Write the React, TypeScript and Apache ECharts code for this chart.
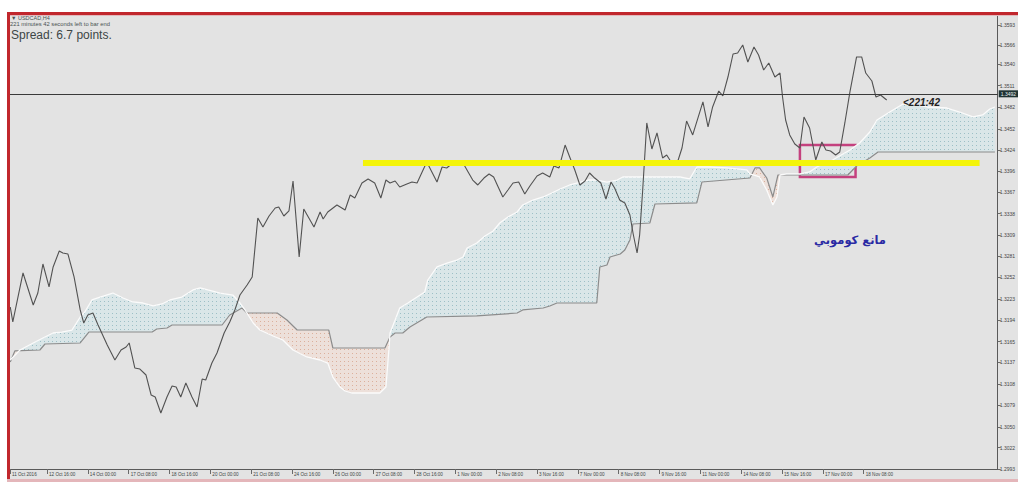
import React, { useEffect, useRef } from 'react';
import * as echarts from 'echarts';

type Pt = [number, number];

// ---- texts ----
const SYMBOL_TITLE = '▼ USDCAD,H4';
const TIMER_TEXT = '221 minutes 42 seconds left to bar end';
const SPREAD_TEXT = 'Spread: 6.7 points.';
const COUNTDOWN_TEXT = '<221:42';
const NOTE_TEXT = 'مانع كوموبي';

// ---- axes ----
const X_RANGE = [0.75, 194.25];
const Y_RANGE = [1.2993, 1.36065];
const X_TICK_BARS = [0.75, 8, 16, 24, 32, 40, 48, 56, 64, 72, 80, 88, 96, 104, 112, 120, 128, 136, 144, 152, 160, 168];
const X_TICK_LABELS = [
  '11 Oct 2016', '12 Oct 16:00', '14 Oct 00:00', '17 Oct 08:00', '18 Oct 16:00', '20 Oct 00:00',
  '21 Oct 08:00', '24 Oct 16:00', '26 Oct 00:00', '27 Oct 08:00', '28 Oct 16:00', '1 Nov 00:00',
  '2 Nov 08:00', '3 Nov 16:00', '7 Nov 00:00', '8 Nov 08:00', '9 Nov 16:00', '11 Nov 00:00',
  '14 Nov 08:00', '15 Nov 16:00', '17 Nov 00:00', '18 Nov 08:00',
];
const Y_TICKS = [
  1.2993, 1.3022, 1.3050, 1.3079, 1.3108, 1.3137, 1.3165, 1.3194, 1.3223, 1.3252, 1.3281,
  1.3309, 1.3338, 1.3367, 1.3396, 1.3424, 1.3452, 1.3482, 1.3511, 1.3540, 1.3566, 1.3593,
];

// ---- series: [bar index, price] ----
const PRICE_CLOSE: Pt[] = [
  [0.8, 1.32119], [1.3, 1.31917], [3.3, 1.32579], [5.3, 1.32146], [6.2, 1.32308], [7.2, 1.3270],
  [8.4, 1.3239], [9.2, 1.3266], [10.4, 1.32876], [11.1, 1.32849], [12.1, 1.32835], [13.3, 1.32525],
  [14.5, 1.32079], [15.2, 1.31903], [16.0, 1.32011], [17.0, 1.32038], [18.0, 1.31876], [19.8, 1.31606],
  [21.3, 1.31403], [22.5, 1.31538], [23.5, 1.31579], [24.1, 1.31633], [25.2, 1.31295], [26.2, 1.31281],
  [27.4, 1.3120], [28.4, 1.3093], [29.2, 1.30903], [30.3, 1.30687], [31.5, 1.30903], [32.5, 1.31052],
  [33.3, 1.31038], [34.2, 1.30903], [35.2, 1.31092], [36.4, 1.30903], [37.4, 1.30768], [38.4, 1.31146],
  [39.1, 1.31133], [40.3, 1.31362], [41.3, 1.31498], [42.7, 1.31768], [43.8, 1.31917], [44.8, 1.32079],
  [45.8, 1.32281], [47.2, 1.32417], [48.2, 1.32525], [49.3, 1.33322], [50.3, 1.3320], [51.5, 1.33349],
  [52.7, 1.33457], [53.4, 1.33471], [54.4, 1.33349], [55.4, 1.33417], [56.2, 1.33822], [57.4, 1.32795],
  [58.3, 1.33444], [59.3, 1.33322], [60.3, 1.3320], [61.5, 1.33403], [62.1, 1.33308], [63.0, 1.33403],
  [64.8, 1.33498], [66.4, 1.3343], [67.4, 1.33633], [68.3, 1.33592], [69.7, 1.33795], [70.9, 1.33849],
  [72.2, 1.33795], [73.4, 1.33592], [74.4, 1.33835], [75.2, 1.33795], [76.2, 1.33822], [77.1, 1.33741],
  [78.5, 1.33781], [79.5, 1.33808], [80.5, 1.33795], [81.4, 1.3393], [82.4, 1.34079], [83.4, 1.33944],
  [84.4, 1.33808], [85.4, 1.34011], [86.3, 1.33998], [87.5, 1.34065], [88.3, 1.34052], [89.5, 1.34065],
  [90.5, 1.33944], [91.4, 1.33835], [92.4, 1.33768], [93.6, 1.33862], [94.6, 1.33917], [95.5, 1.33876],
  [96.3, 1.33754], [97.3, 1.33606], [98.3, 1.3370], [99.3, 1.33795], [100.4, 1.33808], [101.6, 1.33646],
  [102.6, 1.33754], [104.0, 1.3389], [105.1, 1.3393], [106.5, 1.33876], [107.3, 1.34025], [108.3, 1.33998],
  [109.5, 1.34308], [110.4, 1.34146], [111.4, 1.33971], [112.4, 1.33768], [113.4, 1.33822], [114.3, 1.3393],
  [115.3, 1.33862], [116.5, 1.33795], [117.5, 1.33579], [118.5, 1.33808], [119.2, 1.33727], [120.2, 1.33565],
  [121.2, 1.33525], [122.2, 1.33362], [122.8, 1.33119], [123.6, 1.32849], [124.1, 1.33092], [124.7, 1.3370],
  [125.5, 1.34606], [126.5, 1.34254], [127.5, 1.34471], [128.6, 1.34133], [129.4, 1.34173], [130.4, 1.34065],
  [131.4, 1.34052], [132.4, 1.34268], [133.3, 1.34633], [134.5, 1.34444], [136.5, 1.3489], [137.5, 1.34552],
  [138.4, 1.34822], [139.6, 1.35038], [140.4, 1.34971], [141.4, 1.35227], [142.4, 1.35538], [143.3, 1.35552],
  [144.3, 1.3566], [145.3, 1.3543], [146.5, 1.35633], [147.4, 1.35525], [148.4, 1.35322], [149.4, 1.35417],
  [150.6, 1.35227], [151.6, 1.35281], [152.1, 1.34957], [152.7, 1.34646], [153.5, 1.34444], [154.5, 1.34322],
  [155.5, 1.34268], [156.3, 1.34687], [157.4, 1.34538], [158.6, 1.34106], [159.8, 1.34349], [160.6, 1.34241],
  [161.5, 1.34227], [162.5, 1.34173], [163.3, 1.34214], [164.3, 1.34606], [165.3, 1.35025], [166.6, 1.35498],
  [167.6, 1.35498], [168.4, 1.35281], [169.6, 1.35173], [170.4, 1.34957], [171.3, 1.34984], [172.5, 1.34917],
];

const SENKOU_A: Pt[] = [
  [0.8, 1.31403], [2.7, 1.31538], [5.3, 1.31633], [7.2, 1.3170], [9.2, 1.31768], [10.9, 1.31781],
  [12.9, 1.31808], [14.5, 1.31984], [15.4, 1.32052], [16.8, 1.32214], [18.4, 1.32254], [20.9, 1.32308],
  [22.9, 1.32241], [24.8, 1.32187], [26.8, 1.32173], [28.8, 1.32133], [30.5, 1.3216], [32.1, 1.32214],
  [34.4, 1.32254], [36.6, 1.32349], [38.0, 1.32376], [39.5, 1.32349], [41.9, 1.32308], [44.4, 1.32281],
  [45.8, 1.32173], [46.8, 1.32079], [48.4, 1.31903], [49.7, 1.31808], [52.3, 1.31727], [54.2, 1.31673],
  [56.2, 1.31538], [58.9, 1.31444], [61.5, 1.31403], [63.0, 1.31362], [64.0, 1.31173], [65.4, 1.31038],
  [66.4, 1.30984], [67.7, 1.30957], [73.2, 1.30957], [74.4, 1.31038], [75.0, 1.31565], [75.2, 1.31768],
  [76.2, 1.31944], [77.1, 1.32106], [78.7, 1.32173], [80.5, 1.32254], [82.0, 1.32322], [82.6, 1.32484],
  [84.4, 1.3266], [86.5, 1.32714], [88.3, 1.32754], [89.5, 1.32795], [90.3, 1.32917], [92.2, 1.32984],
  [93.8, 1.33079], [95.4, 1.33146], [96.7, 1.33254], [98.3, 1.33335], [100.1, 1.33403], [101.2, 1.33498],
  [103.2, 1.33565], [105.2, 1.33606], [106.9, 1.3366], [108.5, 1.33714], [110.4, 1.33768], [112.0, 1.33795],
  [114.0, 1.33835], [115.7, 1.33835], [117.7, 1.33808], [119.7, 1.33835], [120.8, 1.33876], [125.5, 1.33876],
  [130.1, 1.33876], [132.0, 1.33876], [133.9, 1.33849], [135.3, 1.34011], [137.8, 1.34011], [141.2, 1.33998],
  [145.1, 1.33971], [145.7, 1.33917], [147.6, 1.33876], [149.0, 1.3370], [150.2, 1.33498], [151.0, 1.33606],
  [151.6, 1.33903], [152.9, 1.33917], [155.5, 1.33917], [157.4, 1.33944], [158.8, 1.34011], [161.9, 1.34106],
  [165.3, 1.34241], [167.2, 1.34335], [169.2, 1.34484], [170.6, 1.34646], [173.1, 1.34754], [175.7, 1.34862],
  [177.6, 1.34862], [180.4, 1.34822], [184.3, 1.34808], [186.8, 1.34754], [189.4, 1.34687], [191.3, 1.34714],
  [192.7, 1.34795], [193.7, 1.34822],
];

const SENKOU_B: Pt[] = [
  [0.8, 1.31376], [1.7, 1.31525], [6.6, 1.31538], [7.6, 1.31619], [14.5, 1.31633], [16.2, 1.31781],
  [28.6, 1.31781], [29.5, 1.31822], [31.5, 1.31835], [32.5, 1.31876], [42.3, 1.31876], [43.8, 1.32011],
  [46.2, 1.32106], [47.2, 1.32038], [53.1, 1.32038], [55.0, 1.31944], [57.0, 1.31808], [63.2, 1.31808],
  [64.0, 1.31565], [74.2, 1.31565], [75.2, 1.31714], [76.2, 1.31768], [77.7, 1.31768], [79.1, 1.31849],
  [82.4, 1.31984], [92.2, 1.31998], [100.1, 1.32038], [101.2, 1.32079], [105.2, 1.32106], [106.5, 1.32133],
  [107.9, 1.32173], [115.7, 1.32173], [116.3, 1.3266], [117.7, 1.32687], [118.3, 1.32795], [120.3, 1.32835],
  [121.2, 1.3289], [122.2, 1.33025], [122.8, 1.33241], [126.1, 1.33254], [127.1, 1.33511], [135.3, 1.33525],
  [136.3, 1.33808], [145.7, 1.33862], [146.7, 1.33998], [147.6, 1.33998], [149.0, 1.33862], [150.2, 1.33606],
  [151.2, 1.33903], [164.9, 1.33903], [166.6, 1.34025], [169.2, 1.34133], [170.8, 1.34214], [193.7, 1.34214],
];

// ---- annotations ----
const CURRENT_PRICE = 1.3492;
const SUPPORT_LEVEL = 1.34065;
const SUPPORT_BARS = [69.9, 190.7];
const BOX_BARS = [155.5, 166.4];
const BOX_PRICES = [1.33876, 1.34308];

function valueAt(line: Pt[], x: number): number {
  if (x <= line[0][0]) return line[0][1];
  for (let i = 1; i < line.length; i++) {
    if (x <= line[i][0]) {
      const [x0, y0] = line[i - 1];
      const [x1, y1] = line[i];
      return x1 === x0 ? y1 : y0 + ((y1 - y0) * (x - x0)) / (x1 - x0);
    }
  }
  return line[line.length - 1][1];
}

type CP = { x: number; a: number; b: number };

function cloudSegments(A: Pt[], B: Pt[]) {
  const lo = Math.max(A[0][0], B[0][0]);
  const hi = Math.min(A[A.length - 1][0], B[B.length - 1][0]);
  const xs = Array.from(new Set([...A, ...B].map((p) => p[0]).filter((x) => x >= lo && x <= hi))).sort((p, q) => p - q);
  const pts: CP[] = xs.map((x) => ({ x, a: valueAt(A, x), b: valueAt(B, x) }));
  const full: CP[] = [];
  for (let i = 0; i < pts.length; i++) {
    if (i > 0) {
      const p = pts[i - 1];
      const q = pts[i];
      const dp = p.a - p.b;
      const dq = q.a - q.b;
      if (dp * dq < 0) {
        const t = dp / (dp - dq);
        const v = p.a + (q.a - p.a) * t;
        full.push({ x: p.x + (q.x - p.x) * t, a: v, b: v });
      }
    }
    full.push(pts[i]);
  }
  const segs: CP[][] = [];
  let cur: CP[] = [];
  for (const p of full) {
    cur.push(p);
    if (p.a === p.b && cur.length > 1) {
      segs.push(cur);
      cur = [p];
    }
  }
  if (cur.length > 1) segs.push(cur);
  return segs.map((s) => ({ up: s.reduce((acc, p) => acc + p.a - p.b, 0) >= 0, pts: s }));
}

function dotPattern(bg: string, dot: string) {
  const svg = `<svg xmlns="http://www.w3.org/2000/svg" width="4" height="4"><rect width="4" height="4" fill="${bg}"/><rect x="1" y="1" width="1" height="1" fill="${dot}"/></svg>`;
  return {
    image: 'data:image/svg+xml;charset=utf-8,' + encodeURIComponent(svg),
    repeat: 'repeat',
    imageWidth: 4,
    imageHeight: 4,
  };
}

const BLUE_FILL = dotPattern('#dae6e8', '#9dbfc6');
const PEACH_FILL = dotPattern('#ede0da', '#dcb09c');

function xLabel(v: number): string {
  let best = 0;
  for (let i = 1; i < X_TICK_BARS.length; i++) {
    if (Math.abs(X_TICK_BARS[i] - v) < Math.abs(X_TICK_BARS[best] - v)) best = i;
  }
  return X_TICK_LABELS[best];
}

function buildOption(): any {
  return {
    animation: false,
    backgroundColor: '#e3e3e3',
    grid: { left: 3, right: 20, top: 3, bottom: 13 },
    xAxis: {
      type: 'value',
      min: X_RANGE[0],
      max: X_RANGE[1],
      axisLine: { show: true, onZero: false, lineStyle: { color: '#5a5a5a', width: 1 } },
      axisTick: { show: true, customValues: X_TICK_BARS, length: 5, lineStyle: { color: '#6a6a6a' } },
      axisLabel: {
        show: true,
        customValues: X_TICK_BARS,
        formatter: (v: number) => xLabel(v),
        fontSize: 4.6,
        fontFamily: 'Liberation Sans',
        color: '#3c4646',
        align: 'left',
        margin: 3,
        padding: [0, 0, 0, 2],
      },
      splitLine: { show: false },
    },
    yAxis: {
      type: 'value',
      position: 'right',
      min: Y_RANGE[0],
      max: Y_RANGE[1],
      axisLine: { show: true, onZero: false, lineStyle: { color: '#5a5a5a', width: 1 } },
      axisTick: { show: true, customValues: Y_TICKS, length: 3, lineStyle: { color: '#6a6a6a' } },
      axisLabel: {
        show: true,
        customValues: Y_TICKS,
        formatter: (v: number) => v.toFixed(4),
        fontSize: 5,
        fontFamily: 'Liberation Sans',
        color: '#444',
        margin: 2,
      },
      splitLine: { show: false },
    },
    series: [
      {
        type: 'custom',
        name: 'cloud',
        z: 1,
        silent: true,
        data: [SENKOU_A[0]],
        renderItem: (_params: any, api: any) => {
          const segs = cloudSegments(SENKOU_A, SENKOU_B);
          return {
            type: 'group',
            children: segs.map((s) => ({
              type: 'polygon',
              silent: true,
              shape: {
                points: s.pts
                  .map((p) => api.coord([p.x, p.a]))
                  .concat(s.pts.slice().reverse().map((p) => api.coord([p.x, p.b]))),
              },
              style: { fill: s.up ? BLUE_FILL : PEACH_FILL, lineWidth: 0 },
            })),
          };
        },
      },
      {
        type: 'line',
        name: 'Senkou B',
        z: 2,
        data: SENKOU_B,
        symbol: 'none',
        silent: true,
        lineStyle: { color: '#8c8c8c', width: 1.2 },
      },
      {
        type: 'line',
        name: 'Senkou A',
        z: 2,
        data: SENKOU_A,
        symbol: 'none',
        silent: true,
        lineStyle: { color: '#fbfbfb', width: 1.3 },
      },
      {
        type: 'line',
        name: 'support',
        z: 3,
        data: [],
        symbol: 'none',
        silent: true,
        markLine: {
          silent: true,
          symbol: ['none', 'none'],
          label: { show: false },
          lineStyle: { color: '#f4f40a', width: 6, type: 'solid', opacity: 1 },
          data: [[{ coord: [SUPPORT_BARS[0], SUPPORT_LEVEL] }, { coord: [SUPPORT_BARS[1], SUPPORT_LEVEL] }]],
        },
      },
      {
        type: 'line',
        name: 'price',
        z: 4,
        data: PRICE_CLOSE,
        symbol: 'none',
        silent: true,
        lineStyle: { color: '#525252', width: 1.1 },
        markLine: {
          silent: true,
          symbol: ['none', 'none'],
          lineStyle: { color: '#3a3a3a', width: 1, type: 'solid' },
          label: {
            show: true,
            position: 'end',
            distance: 1,
            formatter: CURRENT_PRICE.toFixed(4),
            fontSize: 5,
            fontFamily: 'Liberation Sans',
            color: '#e6f0f0',
            backgroundColor: '#1f3333',
            padding: [1, 2],
          },
          data: [{ yAxis: CURRENT_PRICE }],
        },
      },
      {
        type: 'line',
        name: 'box',
        z: 5,
        data: [],
        symbol: 'none',
        silent: true,
        markArea: {
          silent: true,
          itemStyle: { color: 'rgba(0,0,0,0)', borderColor: '#c4417e', borderWidth: 2.5 },
          data: [[{ coord: [BOX_BARS[0], BOX_PRICES[1]] }, { coord: [BOX_BARS[1], BOX_PRICES[0]] }]],
        },
      },
    ],
    graphic: [
      { type: 'rect', z: 100, silent: true, shape: { x: 0, y: 0, width: 1011, height: 3 }, style: { fill: '#c1272d' } },
      { type: 'rect', z: 100, silent: true, shape: { x: 0, y: 3, width: 1011, height: 1 }, style: { fill: '#e2b9bc' } },
      { type: 'rect', z: 100, silent: true, shape: { x: 0, y: 0, width: 3, height: 470 }, style: { fill: '#c1272d' } },
      { type: 'rect', z: 100, silent: true, shape: { x: 0, y: 467, width: 1011, height: 3 }, style: { fill: '#e4b6ba' } },
      {
        type: 'text', z: 100, silent: true, x: 4, y: 6,
        style: { text: SYMBOL_TITLE, fill: '#4a5252', fontSize: 5.5, fontFamily: 'Liberation Sans', align: 'left', verticalAlign: 'middle', textAlign: 'left', textVerticalAlign: 'middle' },
      },
      {
        type: 'text', z: 100, silent: true, x: 3, y: 12,
        style: { text: TIMER_TEXT, fill: '#4a5252', fontSize: 5.8, fontFamily: 'Liberation Sans', align: 'left', verticalAlign: 'middle', textAlign: 'left', textVerticalAlign: 'middle' },
      },
      {
        type: 'text', z: 100, silent: true, x: 4, y: 23,
        style: { text: SPREAD_TEXT, fill: '#3c4646', fontSize: 12, fontFamily: 'Liberation Sans', align: 'left', verticalAlign: 'middle', textAlign: 'left', textVerticalAlign: 'middle' },
      },
      {
        type: 'text', z: 100, silent: true, x: 896, y: 90,
        style: { text: COUNTDOWN_TEXT, fill: '#222', fontSize: 10, fontWeight: 'bold', fontStyle: 'italic', fontFamily: 'Liberation Sans', align: 'left', verticalAlign: 'middle', textAlign: 'left', textVerticalAlign: 'middle' },
      },
      {
        type: 'text', z: 100, silent: true, x: 843, y: 228,
        style: { text: NOTE_TEXT, fill: '#2a2aa4', fontSize: 11.5, fontWeight: 'bold', fontFamily: 'DejaVu Sans', align: 'center', verticalAlign: 'middle', textAlign: 'center', textVerticalAlign: 'middle' },
      },
    ],
  };
}

export default function App() {
  const ref = useRef<HTMLDivElement>(null);
  useEffect(() => {
    if (!ref.current) return;
    const chart = echarts.init(ref.current, null, { renderer: 'svg' });
    chart.setOption(buildOption());
    return () => chart.dispose();
  }, []);
  return (
    <div style={{ position: 'absolute', left: 0, top: 0, width: 1018, height: 482, background: '#ffffff', overflow: 'hidden' }}>
      <div ref={ref} style={{ position: 'absolute', left: 7, top: 12, width: 1011, height: 470 }} />
    </div>
  );
}
